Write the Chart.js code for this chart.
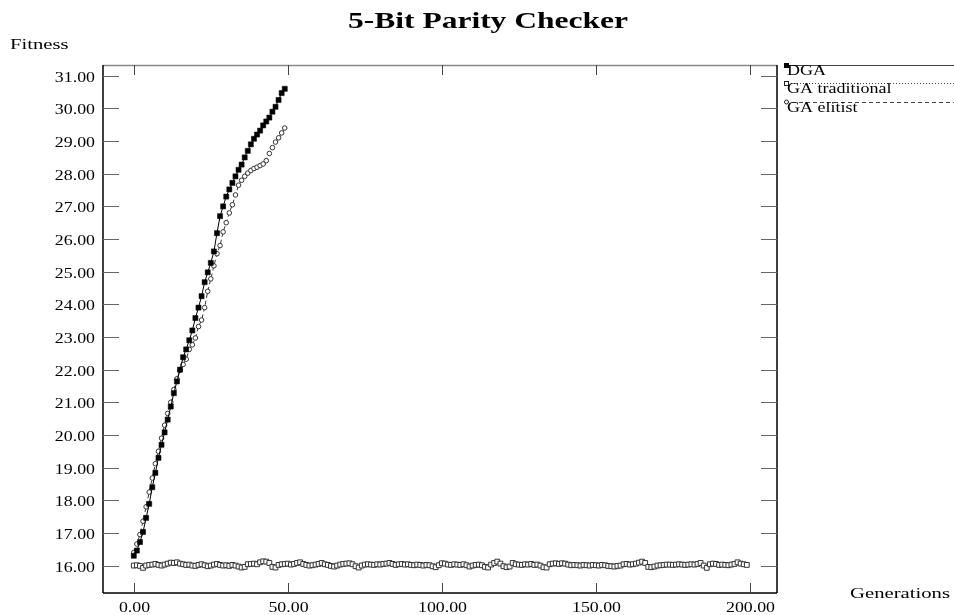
<!DOCTYPE html>
<html>
<head>
<meta charset="utf-8">
<script src="https://cdn.jsdelivr.net/npm/chart.js@4/dist/chart.umd.min.js"></script>
<style>
  html, body { margin: 0; padding: 0; background: #ffffff; }
  canvas { display: block; }
</style>
</head>
<body>
<canvas id="chart" width="954" height="615"></canvas>
<script>
// Best-of-population fitness per generation for the three algorithms.
const seriesNames = ['DGA', 'GA traditional', 'GA elitist'];

const dgaFitness = [
  16.30, 16.46, 16.72, 17.03, 17.46, 17.89, 18.40, 18.84, 19.30, 19.70,
  20.08, 20.47, 20.87, 21.28, 21.64, 22.00, 22.38, 22.62, 22.90, 23.20,
  23.58, 23.90, 24.25, 24.68, 24.98, 25.27, 25.62, 26.18, 26.70, 27.00,
  27.30, 27.52, 27.72, 27.92, 28.12, 28.28, 28.50, 28.70, 28.90, 29.07,
  29.20, 29.32, 29.48, 29.60, 29.72, 29.90, 30.05, 30.26, 30.47, 30.60
];

const traditionalFitness = [
  16.00, 16.01, 15.99, 15.93, 16.00, 16.02, 16.03, 16.05, 16.02, 16.00,
  16.03, 16.06, 16.09, 16.08, 16.10, 16.06, 16.04, 16.02, 16.03, 16.00,
  15.99, 16.02, 16.04, 16.01, 15.98, 16.00, 16.03, 16.05, 16.02, 16.00,
  16.01, 15.99, 16.02, 16.00, 15.97, 15.94, 15.96, 16.04, 16.05, 16.06,
  16.04, 16.10, 16.13, 16.12, 16.08, 15.96, 15.94, 16.02, 16.04, 16.05,
  16.06, 16.03, 16.05, 16.08, 16.10, 16.05, 16.02, 16.00, 16.01, 16.03,
  16.05, 16.08, 16.04, 16.02, 15.99, 15.97, 16.00, 16.03, 16.05, 16.06,
  16.07, 16.04, 15.98, 15.94, 16.00, 16.03, 16.04, 16.03, 16.02, 16.04,
  16.03, 16.05, 16.06, 16.08, 16.05, 16.02, 16.04, 16.05, 16.03, 16.04,
  16.02, 16.01, 16.03, 16.02, 16.00, 16.02, 16.01, 15.98, 15.95, 16.01,
  16.07, 16.06, 16.03, 16.02, 16.04, 16.03, 16.02, 16.04, 16.01, 15.97,
  16.00, 16.02, 16.03, 16.01, 15.96, 15.94, 16.03, 16.08, 16.12, 16.06,
  15.98, 15.95, 15.97, 16.08, 16.04, 16.03, 16.02, 16.04, 16.03, 16.05,
  16.02, 16.03, 16.00, 15.95, 15.94, 16.04, 16.06, 16.07, 16.05, 16.07,
  16.06, 16.03, 16.01, 16.02, 16.01, 16.00, 16.02, 16.01, 16.00, 16.02,
  16.01, 16.00, 16.02, 16.01, 15.99, 15.98, 15.97, 15.99, 16.00, 16.04,
  16.05, 16.03, 16.04, 16.06, 16.09, 16.12, 16.08, 15.96, 15.95, 15.97,
  16.00, 16.01, 16.02, 16.03, 16.03, 16.02, 16.03, 16.04, 16.03, 16.02,
  16.03, 16.04, 16.03, 16.05, 16.08, 16.00, 15.93, 16.04, 16.06, 16.05,
  16.02, 16.03, 16.02, 16.01, 16.03, 16.05, 16.10, 16.06, 16.04, 16.02
];

const elitistFitness = [
  16.40, 16.66, 16.95, 17.36, 17.80, 18.25, 18.68, 19.12, 19.50, 19.90,
  20.30, 20.66, 21.00, 21.39, 21.72, 21.98, 22.16, 22.32, 22.62, 22.76,
  22.97, 23.32, 23.52, 23.90, 24.40, 24.78, 25.18, 25.55, 25.80, 26.22,
  26.50, 26.80, 27.05, 27.35, 27.65, 27.80, 27.92, 28.02, 28.10, 28.16,
  28.20, 28.25, 28.30, 28.40, 28.62, 28.80, 28.97, 29.10, 29.25, 29.40
];

const xTickValues = [0, 50, 100, 150, 200];
const yTickValues = [16, 17, 18, 19, 20, 21, 22, 23, 24, 25, 26, 27, 28, 29, 30, 31];

const titleText = '5-Bit Parity Checker';
const yAxisTitle = 'Fitness';
const xAxisTitle = 'Generations';

const toPoints = arr => arr.map((v, i) => ({ x: i, y: v }));

const SERIF = '"Liberation Serif", "Times New Roman", serif';

// Text drawn with a slight horizontal stretch, like the original plotting tool output.
function wideText(ctx, text, x, y, align, font, sx) {
  ctx.save();
  ctx.font = font;
  ctx.fillStyle = '#000';
  ctx.textAlign = align;
  ctx.textBaseline = 'alphabetic';
  ctx.translate(x, y);
  ctx.scale(sx, 1);
  ctx.fillText(text, 0, 0);
  ctx.restore();
}

function hLine(ctx, x1, x2, y, color, width, dash) {
  ctx.save();
  ctx.strokeStyle = color;
  ctx.lineWidth = width;
  ctx.setLineDash(dash || []);
  ctx.beginPath();
  ctx.moveTo(x1, y);
  ctx.lineTo(x2, y);
  ctx.stroke();
  ctx.restore();
}

function vLine(ctx, x, y1, y2, color, width) {
  ctx.save();
  ctx.strokeStyle = color;
  ctx.lineWidth = width;
  ctx.beginPath();
  ctx.moveTo(x, y1);
  ctx.lineTo(x, y2);
  ctx.stroke();
  ctx.restore();
}

// Frame, inward ticks, tick labels, titles and the legend at the right.
const framePlugin = {
  id: 'frame',
  afterDraw(chart) {
    const { ctx, chartArea: a, scales } = chart;
    const xs = scales.x, ys = scales.y;

    // box
    hLine(ctx, a.left, a.right, a.top + 0.5, '#888', 1.5);
    hLine(ctx, a.left, a.right, a.bottom, '#000', 1.5);
    vLine(ctx, a.left, a.top, a.bottom, '#000', 1.5);
    vLine(ctx, a.right, a.top, a.bottom, '#000', 1.5);

    // y ticks on both sides, pointing inward
    const tickFont = '15px ' + SERIF;
    yTickValues.forEach(v => {
      const y = Math.round(ys.getPixelForValue(v)) + 0.5;
      hLine(ctx, a.left, a.left + 16, y, '#666', 1);
      hLine(ctx, a.right - 16, a.right, y, '#666', 1);
      wideText(ctx, v.toFixed(2), a.left - 8, y + 5, 'right', tickFont, 1.19);
    });

    // x ticks top and bottom, pointing inward
    xTickValues.forEach(v => {
      const x = Math.round(xs.getPixelForValue(v)) + 0.5;
      vLine(ctx, x, a.top, a.top + 10, '#444', 1);
      vLine(ctx, x, a.bottom - 10, a.bottom, '#444', 1);
      wideText(ctx, v.toFixed(2), x, a.bottom + 19, 'center', tickFont, 1.19);
    });

    // titles
    wideText(ctx, titleText, 488, 28, 'center', 'bold 23px ' + SERIF, 1.37);
    wideText(ctx, yAxisTitle, 10, 49, 'left', '15px ' + SERIF, 1.38);
    wideText(ctx, xAxisTitle, 850, 598, 'left', '15px ' + SERIF, 1.38);

    // legend
    const legendX = a.right + 8;
    const rows = [
      { y: 65, dash: [], marker: 'filledRect' },
      { y: 83, dash: [1, 2], marker: 'openRect' },
      { y: 102, dash: [4, 3], marker: 'circle' }
    ];
    const legendFont = '15px ' + SERIF;
    rows.forEach((r, i) => {
      hLine(ctx, legendX, chart.width, r.y + 0.5, '#444', 1, r.dash);
      ctx.save();
      ctx.strokeStyle = '#222';
      ctx.lineWidth = 1;
      if (r.marker === 'filledRect') {
        ctx.fillStyle = '#000';
        ctx.fillRect(legendX - 1, r.y - 2, 5, 5);
      } else if (r.marker === 'openRect') {
        ctx.fillStyle = '#fff';
        ctx.fillRect(legendX - 0.5, r.y - 1.5, 4, 4);
        ctx.strokeRect(legendX - 0.5, r.y - 1.5, 4, 4);
      } else {
        ctx.fillStyle = '#fff';
        ctx.beginPath();
        ctx.arc(legendX + 1.5, r.y, 2, 0, Math.PI * 2);
        ctx.fill();
        ctx.stroke();
      }
      ctx.restore();
      wideText(ctx, seriesNames[i], legendX + 2, r.y + 10, 'left', legendFont, 1.2);
    });
  }
};

new Chart(document.getElementById('chart'), {
  type: 'line',
  data: {
    datasets: [
      {
        label: seriesNames[0],
        data: toPoints(dgaFitness),
        borderColor: '#000',
        borderWidth: 1,
        pointStyle: 'rect',
        pointRadius: 3.6,
        pointBackgroundColor: '#000',
        pointBorderColor: '#000',
        pointBorderWidth: 0.5,
        tension: 0
      },
      {
        label: seriesNames[1],
        data: toPoints(traditionalFitness),
        borderColor: '#444',
        borderWidth: 1,
        borderDash: [1, 2],
        pointStyle: 'rect',
        pointRadius: 3.4,
        pointBackgroundColor: '#fff',
        pointBorderColor: '#333',
        pointBorderWidth: 1,
        tension: 0
      },
      {
        label: seriesNames[2],
        data: toPoints(elitistFitness),
        borderColor: '#333',
        borderWidth: 1,
        borderDash: [4, 3],
        pointStyle: 'circle',
        pointRadius: 2.3,
        pointBackgroundColor: '#fff',
        pointBorderColor: '#333',
        pointBorderWidth: 1,
        tension: 0
      }
    ]
  },
  options: {
    responsive: false,
    animation: false,
    events: [],
    layout: { padding: { left: 103, top: 65, right: 177, bottom: 22 } },
    plugins: { legend: { display: false }, title: { display: false }, tooltip: { enabled: false } },
    scales: {
      x: { type: 'linear', min: -10, max: 208.8, display: false },
      y: { type: 'linear', min: 15.16, max: 31.33, display: false }
    }
  },
  plugins: [framePlugin]
});
</script>
</body>
</html>
